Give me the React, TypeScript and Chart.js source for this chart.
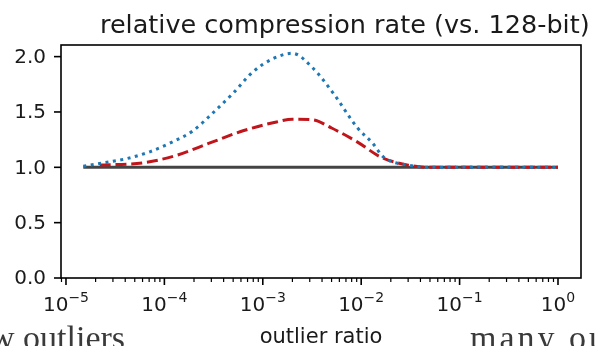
import React, { useEffect, useRef } from "react";
import { Chart, registerables } from "chart.js";

Chart.register(...registerables);

const TITLE = "relative compression rate (vs. 128-bit)";
const X_LABEL = "outlier ratio";
const LEFT_NOTE = "w outliers";
const RIGHT_NOTE = "many ou";

const X_MIN = 8.9e-6;
const X_MAX = 1.713;
const Y_MIN = 0;
const Y_MAX = 2.105;

const Y_TICKS = [0, 0.5, 1.0, 1.5, 2.0];
const X_MAJOR_EXPONENTS = [-5, -4, -3, -2, -1, 0];

const BASE_X = [1.5e-5, 1.0];
const BASE_Y = [1.0, 1.0];

const BLUE_X = [1.5e-5, 2.4e-5, 4.2e-5, 7.1e-5, 1.15e-4, 1.95e-4, 3.1e-4, 5.0e-4, 7.9e-4, 1.26e-3, 2.0e-3, 3.2e-3, 5.1e-3, 9.1e-3, 1.3e-2, 1.7e-2, 3.0e-2, 5.0e-2, 1.0e-1, 1.0];
const BLUE_Y = [1.01, 1.04, 1.08, 1.14, 1.22, 1.33, 1.49, 1.67, 1.86, 1.98, 2.03, 1.9, 1.68, 1.36, 1.22, 1.09, 1.02, 1.0, 1.0, 1.0];

const RED_X = [2.2e-5, 6.0e-5, 1.35e-4, 2.9e-4, 6.3e-4, 1.38e-3, 2.0e-3, 3.2e-3, 5.0e-3, 9.1e-3, 1.6e-2, 3.0e-2, 5.0e-2, 1.0e-1, 1.0];
const RED_Y = [1.02, 1.04, 1.11, 1.22, 1.33, 1.41, 1.435, 1.43, 1.355, 1.23, 1.09, 1.02, 1.0, 1.0, 1.0];

const SANS = "'DejaVu Sans', sans-serif";
const SERIF = "'Liberation Serif', 'DejaVu Serif', serif";

const zip = (xs: number[], ys: number[]) => xs.map((x, i) => ({ x, y: ys[i] }));

const decor = {
  id: "decor",
  afterDraw(chart: any) {
    const { ctx, chartArea, scales } = chart;
    const xs = scales.x;
    const ys = scales.y;
    const { left, right, top, bottom } = chartArea;
    ctx.save();
    ctx.fillStyle = "#1a1a1a";
    ctx.strokeStyle = "#000";

    // box
    ctx.lineWidth = 1.6;
    ctx.strokeRect(left, top, right - left, bottom - top);

    // y ticks
    ctx.font = `20px ${SANS}`;
    ctx.textAlign = "right";
    ctx.textBaseline = "middle";
    Y_TICKS.forEach((v) => {
      const py = ys.getPixelForValue(v);
      ctx.beginPath();
      ctx.moveTo(left - 7, py);
      ctx.lineTo(left, py);
      ctx.stroke();
      ctx.fillText(v.toFixed(1), left - 15, py + 1);
    });

    // x minor ticks
    ctx.lineWidth = 1.2;
    for (let e = -6; e <= 0; e++) {
      for (let m = 2; m <= 9; m++) {
        const v = m * Math.pow(10, e);
        if (v < X_MIN || v > X_MAX) continue;
        const px = xs.getPixelForValue(v);
        ctx.beginPath();
        ctx.moveTo(px, bottom);
        ctx.lineTo(px, bottom + 4);
        ctx.stroke();
      }
    }
    // x major ticks + labels
    ctx.lineWidth = 1.6;
    X_MAJOR_EXPONENTS.forEach((e) => {
      const px = xs.getPixelForValue(Math.pow(10, e));
      ctx.beginPath();
      ctx.moveTo(px, bottom);
      ctx.lineTo(px, bottom + 7);
      ctx.stroke();
      const base = "10";
      const sup = e < 0 ? "\u2212" + Math.abs(e) : String(e);
      ctx.font = `20px ${SANS}`;
      const wb = ctx.measureText(base).width;
      ctx.font = `14px ${SANS}`;
      const ws = ctx.measureText(sup).width;
      const x0 = px - (wb + ws) / 2;
      ctx.textAlign = "left";
      ctx.textBaseline = "alphabetic";
      ctx.font = `20px ${SANS}`;
      ctx.fillText(base, x0, bottom + 33);
      ctx.font = `14px ${SANS}`;
      ctx.fillText(sup, x0 + wb, bottom + 24);
    });

    // x label
    ctx.font = `21px ${SANS}`;
    ctx.textAlign = "center";
    ctx.textBaseline = "alphabetic";
    ctx.fillText(X_LABEL, (left + right) / 2, 343);

    // title
    ctx.font = `25.5px ${SANS}`;
    ctx.textAlign = "left";
    ctx.fillText(TITLE, 100, 32.5);

    // cropped page text
    ctx.fillStyle = "#3a3a3a";
    ctx.font = `34px ${SERIF}`;
    ctx.textAlign = "left";
    (ctx as any).letterSpacing = "0px";
    ctx.fillText(LEFT_NOTE, -10, 349);
    (ctx as any).letterSpacing = "3px";
    ctx.fillText(RIGHT_NOTE, 470, 349);
    (ctx as any).letterSpacing = "0px";
    ctx.restore();
  },
};

export default function App() {
  const ref = useRef<HTMLCanvasElement>(null);
  useEffect(() => {
    if (!ref.current) return;
    const chart = new Chart(ref.current, {
      type: "line",
      data: {
        datasets: [
          {
            data: zip(BLUE_X, BLUE_Y),
            borderColor: "#1f77b4",
            borderWidth: 3,
            borderDash: [3, 4.5],
            pointRadius: 0,
            cubicInterpolationMode: "monotone",
            fill: false,
          },
          {
            data: zip(RED_X, RED_Y),
            borderColor: "#c0161b",
            borderWidth: 3,
            borderDash: [11, 4.8],
            pointRadius: 0,
            cubicInterpolationMode: "monotone",
            fill: false,
          },
          {
            data: zip(BASE_X, BASE_Y),
            borderColor: "#444444",
            borderWidth: 3,
            pointRadius: 0,
            fill: false,
          },
        ],
      },
      options: {
        responsive: false,
        animation: false,
        layout: { padding: { left: 61, right: 14, top: 45, bottom: 68 } },
        plugins: { legend: { display: false }, tooltip: { enabled: false }, title: { display: false } },
        scales: {
          x: { type: "logarithmic", min: X_MIN, max: X_MAX, display: false },
          y: { type: "linear", min: Y_MIN, max: Y_MAX, display: false },
        },
      },
      plugins: [decor],
    });
    return () => chart.destroy();
  }, []);
  return (
    <div style={{ position: "absolute", left: 0, top: 0, width: 595, height: 346, background: "#fff" }}>
      <canvas ref={ref} width={595} height={346} style={{ display: "block" }} />
    </div>
  );
}
